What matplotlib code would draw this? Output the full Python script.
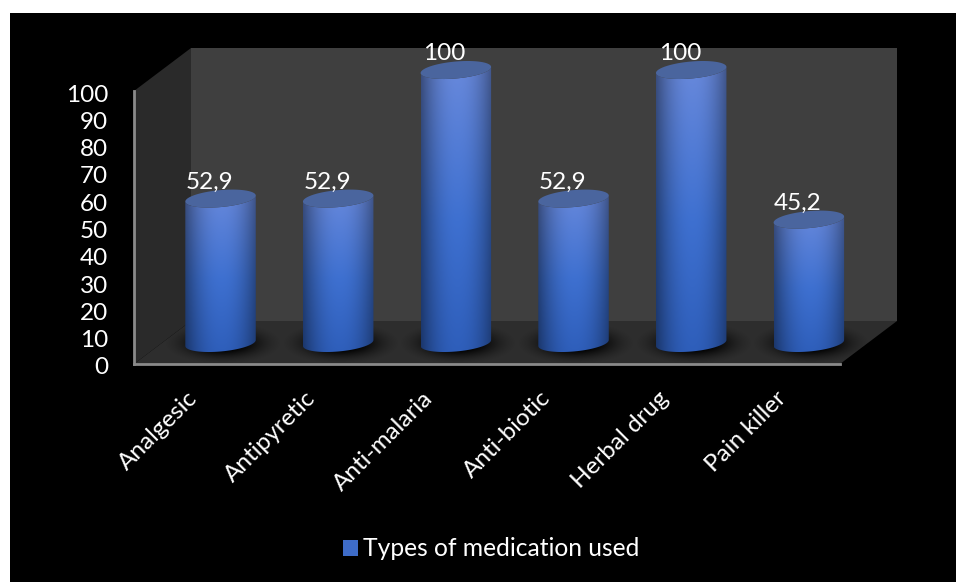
import numpy as np
import matplotlib
matplotlib.use("Agg")
import matplotlib.pyplot as plt
from matplotlib.patches import Patch, Polygon, Rectangle
from matplotlib.path import Path
from matplotlib.transforms import Affine2D

plt.rcParams['font.family'] = ['Lato', 'DejaVu Sans']

# Chart data
categories = ["Analgesic", "Antipyretic", "Anti-malaria", "Anti-biotic", "Herbal drug", "Pain killer"]
values = [52.9, 52.9, 100, 52.9, 100, 45.2]
value_labels = ["52,9", "52,9", "100", "52,9", "100", "45,2"]
y_ticks = list(range(0, 101, 10))
series_name = "Types of medication used"

W, H = 956, 582
fig = plt.figure(figsize=(W / 100, H / 100), dpi=100, facecolor="white")
fig.patches.append(Rectangle((10 / W, 0), 1, 1 - 13 / H, transform=fig.transFigure,
                             facecolor="black", edgecolor="none", zorder=-10))

# Front plane of the 3D box, in pixels
PX_LEFT, PX_RIGHT, PX_ZERO, PX_TOP = 134, 840, 364, 91
ax = fig.add_axes([PX_LEFT / W, 1 - PX_ZERO / H, (PX_RIGHT - PX_LEFT) / W, (PX_ZERO - PX_TOP) / H])
ax.patch.set_visible(False)

x_min, x_max = -0.5, len(categories) - 0.5
x_unit = (PX_RIGHT - PX_LEFT) / len(categories)
y_unit = (PX_ZERO - PX_TOP) / 100

# Box depth and cylinder geometry, converted to data units
depth_x, depth_y = 57 / x_unit, 43 / y_unit
bar_dx, bar_dy = 27.7 / x_unit, 21 / y_unit
rx, ry = 35.25 / x_unit, 8.5 / y_unit
tilt = 3.0 / y_unit


def add_poly(points, color, z):
    ax.add_patch(Polygon(points, closed=True, facecolor=color, edgecolor="none", zorder=z, clip_on=False))


# Back wall, side wall, floor
add_poly([(x_min + depth_x, depth_y), (x_max + depth_x, depth_y),
          (x_max + depth_x, 100 + depth_y), (x_min + depth_x, 100 + depth_y)], "#3f3f3f", 0)
add_poly([(x_min, 0), (x_min + depth_x, depth_y), (x_min + depth_x, 100 + depth_y), (x_min, 100)], "#2a2a2a", 0)
add_poly([(x_min, 0), (x_min + depth_x, depth_y), (x_max + depth_x, depth_y), (x_max, 0)], "#2d2d2d", 0.5)


def ellipse_points(cx, cy, t):
    return np.column_stack([cx + rx * np.cos(t), cy + ry * np.sin(t) + tilt * np.cos(t)])


def cylinder_shading(n_rows=200, n_cols=90):
    t = np.linspace(0, 1, n_rows)[:, None]
    u = np.linspace(-1, 1, n_cols)[None, :]
    top = np.array([106, 138, 220]) / 255
    mid = np.array([62, 112, 208]) / 255
    bottom = np.array([46, 94, 186]) / 255
    stops = np.array([0.0, 0.55, 1.0])
    base = np.stack([np.interp(t[:, 0], stops, [top[k], mid[k], bottom[k]]) for k in range(3)], axis=1)
    shade = 0.60 + 0.40 * (1 - np.abs(u - 0.03) ** 2.1)
    shade = np.clip(shade, 0, 1)
    img = base[:, None, :] * shade[:, :, None]
    return np.clip(img, 0, 1)


def shadow_image(n=120):
    yy, xx = np.mgrid[-1:1:n * 1j, -1:1:n * 1j]
    alpha = np.clip(1.5 * np.exp(-2.6 * (xx ** 2 + yy ** 2)) - 0.12, 0, 1)
    img = np.zeros((n, n, 4))
    img[..., 3] = alpha
    return img


shading = cylinder_shading()
shadow = shadow_image()
fs = 17.5

for i, v in enumerate(values):
    cx = i + bar_dx
    base_y = bar_dy
    top_y = v + bar_dy

    # Soft contact shadow on the floor
    sh = ax.imshow(shadow, extent=[cx + 0.02 - 0.5, cx + 0.02 + 0.5, base_y - 21 / y_unit, base_y + 21 / y_unit],
                   aspect="auto", zorder=1, interpolation="bilinear")
    sh.set_clip_on(False)

    # Body: upper half of the top ellipse is hidden by the cap, lower half of the base is visible
    t_low = np.linspace(np.pi, 2 * np.pi, 60)
    lower = ellipse_points(cx, base_y, t_low)
    upper = ellipse_points(cx, top_y, t_low[::-1])
    body = np.vstack([lower, upper, lower[:1]])
    im = ax.imshow(shading, extent=[cx - rx, cx + rx, base_y - ry - tilt, top_y + ry + tilt],
                   aspect="auto", zorder=2, interpolation="bilinear")
    im.set_clip_box(fig.bbox)
    im.set_clip_path(Path(body), ax.transData)

    # Cap
    add_poly(ellipse_points(cx, top_y, np.linspace(0, 2 * np.pi, 120)), "#4a659e", 3)

    # Value label
    ax.annotate(value_labels[i], (i, v), xytext=(16.5, 37.5), textcoords="offset pixels",
                ha="center", va="center", color="white", fontsize=fs, zorder=5, annotation_clip=False)

ax.set_xlim(x_min, x_max)
ax.set_ylim(0, 100)
ax.set_xticks(range(len(categories)))
ax.set_xticklabels(categories, rotation=45, ha="right", va="top", rotation_mode="anchor")
ax.set_yticks(y_ticks)
ax.tick_params(axis="both", length=0, colors="white", labelsize=fs)
ax.tick_params(axis="y", pad=18.5)
ax.tick_params(axis="x", pad=17)

# Slanted category labels sit a little to the left of their tick position
for label in ax.get_xticklabels():
    label.set_transform(label.get_transform() + Affine2D().translate(-6, 0))
# Numeric labels sit slightly below their gridline height
for label in ax.get_yticklabels():
    label.set_transform(label.get_transform() + Affine2D().translate(0, -2))

for side in ("top", "right"):
    ax.spines[side].set_visible(False)
for side in ("left", "bottom"):
    ax.spines[side].set_color("#8a8a8a")
    ax.spines[side].set_linewidth(2.0)
    ax.spines[side].set_zorder(4)

legend_fs = 17.7
fig.legend(handles=[Patch(facecolor="#3e6cc8", edgecolor="none", label=series_name)],
           loc="center", bbox_to_anchor=(491.5 / W, 1 - 549 / H), frameon=False,
           labelcolor="white", fontsize=legend_fs, handlelength=15 / 1.389 / legend_fs,
           handleheight=15 / 1.389 / legend_fs, handletextpad=0.2)

fig.savefig("out.png", dpi=100, facecolor="white")
